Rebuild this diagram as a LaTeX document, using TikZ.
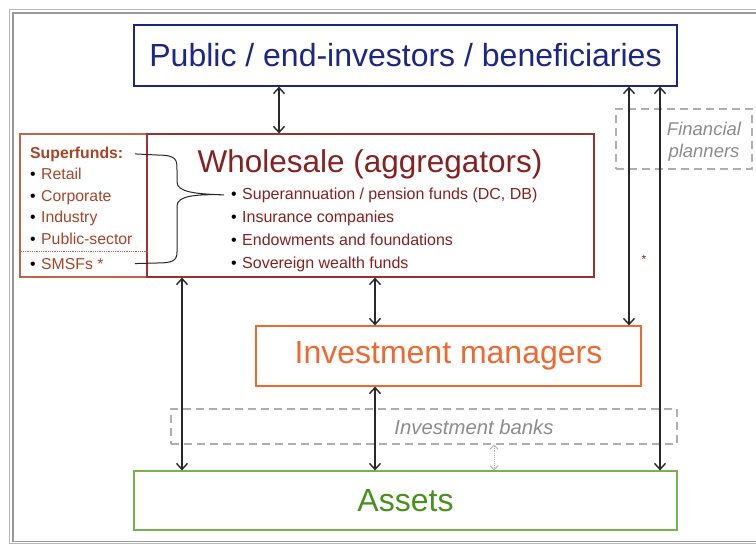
\documentclass[tikz,border=0pt]{standalone}
\usepackage{fontspec}
\setmainfont{Liberation Sans}
\usetikzlibrary{arrows.meta, calc}
\definecolor{publicBlue}{RGB}{28, 38, 135}
\definecolor{wholesaleRed}{RGB}{135, 32, 32}
\definecolor{wholesaleEdge}{RGB}{150, 50, 50}
\definecolor{superBrown}{RGB}{168, 68, 38}
\definecolor{superEdge}{RGB}{190, 100, 75}
\definecolor{managerOrange}{RGB}{240, 104, 48}
\definecolor{assetGreen}{RGB}{72, 145, 28}
\definecolor{assetEdge}{RGB}{118, 178, 78}
\definecolor{dashGray}{RGB}{175, 175, 175}
\definecolor{labelGray}{RGB}{140, 140, 140}
\definecolor{arrowGray}{RGB}{40, 40, 40}
\newcommand{\itm}{\makebox[11pt][l]{\color{black}\textbullet}}

\begin{document}
\begin{tikzpicture}[x=1pt, y=-1pt,
    bigbox/.style={draw, line width=1.2pt, inner sep=0pt, font=\fontsize{32}{36}\selectfont},
    dashbox/.style={draw=dashGray, line width=1.3pt, dash pattern=on 8pt off 5pt, inner sep=0pt},
    sftxt/.style={text=superBrown, anchor=base west, inner sep=0pt, font=\fontsize{15.8}{19}\selectfont},
    wstxt/.style={text=wholesaleRed, anchor=base west, inner sep=0pt, font=\fontsize{16}{19}\selectfont},
    biarrow/.style={{Straight Barb[length=6pt,width=11pt]}-{Straight Barb[length=6pt,width=11pt]}, line width=1.4pt, draw=arrowGray},
    brace/.style={draw=arrowGray, line width=1pt}]
    \useasboundingbox (0,0) rectangle (756,544);

    % window frame
    \draw[gray!55, line width=1.5pt] (9.5,9.5) rectangle (780,544);
    \draw[gray!80, line width=1.5pt] (13,13) rectangle (780,541.5);

    % main boxes
    \node[bigbox, draw=publicBlue, text=publicBlue, minimum width=543pt, minimum height=61pt] (public) at (405.5,55.5) {Public / end-investors / beneficiaries};
    \node[draw=superEdge, line width=1.2pt, minimum width=127pt, minimum height=143pt] (superbox) at (83.5,205.5) {};
    \node[draw=wholesaleEdge, line width=1.2pt, minimum width=447pt, minimum height=143pt] (whole) at (370.5,205.5) {};
    \node[text=wholesaleRed, anchor=base, inner sep=0pt, font=\fontsize{31.5}{36}\selectfont] (wtitle) at (370,172) {Wholesale (aggregators)};
    \node[bigbox, draw=managerOrange, text=managerOrange, minimum width=385pt, minimum height=60pt] (managers) at (448.5,356) {Investment managers};
    \node[bigbox, draw=assetEdge, text=assetGreen, minimum width=543pt, minimum height=59pt] (assets) at (405.5,500.5) {Assets};

    % intermediaries
    \node[dashbox, minimum width=506pt, minimum height=35pt] (banks) at (424,426.5) {};
    \node[text=labelGray, font=\itshape\fontsize{20.3}{22}\selectfont] (bankslabel) at (474,427) {Investment banks};
    \node[dashbox, minimum width=136pt, minimum height=60pt] (planners) at (684,139) {};
    \node[text=labelGray, align=center, inner sep=0pt, font=\itshape\fontsize{18.5}{22}\selectfont] (plannerslabel) at (704,142) {Financial\\planners};

    % superfunds list
    \node[sftxt, font=\bfseries\fontsize{15.8}{19}\selectfont] (sf) at (30,158) {Superfunds:};
    \foreach \t [count=\i] in {Retail, Corporate, Industry, Public-sector}
        \node[sftxt] (sf\i) at (30,{158+21.5*\i}) {\itm\t};
    \draw[superEdge, line width=0.8pt, densely dotted] (superbox.west |- 0,251) -- (superbox.east |- 0,251);
    \node[sftxt] (smsf) at (30,269) {\itm SMSFs *};

    % wholesale list
    \foreach \t [count=\i] in {{Superannuation / pension funds (DC, DB)}, Insurance companies, Endowments and foundations, Sovereign wealth funds}
        \node[wstxt] (wl\i) at (231,{199+23*(\i-1)}) {\itm\t};

    % brace from superfunds to the pension line
    \coordinate (brx) at (135,0);
    \coordinate (tip) at ($(wl1.west)+(-7,0)$);
    \draw[brace] (sf.east -| brx) -- (157,155) .. controls (177,155) and (177,160) .. (177,170)
        -- (177,182) .. controls (177,192) and (195,194) .. (tip)
        .. controls (195,194) and (177,196) .. (177,206) -- (177,252)
        .. controls (177,261) and (172,263) .. (157,263) -- (smsf.east -| brx);

    % flows
    \draw[biarrow] (public.south -| 279,0) -- (whole.north -| 279,0);
    \draw[biarrow] (whole.south -| 375,0) -- (managers.north -| 375,0);
    \draw[biarrow] (whole.south -| 182,0) -- (assets.north -| 182,0);
    \draw[biarrow] (managers.south -| 375,0) -- (assets.north -| 375,0);
    \draw[biarrow] (public.south -| 629,0) -- (managers.north -| 629,0);
    \draw[biarrow] (public.south -| 660,0) -- (assets.north -| 660,0);
    \draw[{Straight Barb[length=4pt,width=8pt]}-{Straight Barb[length=4pt,width=8pt]}, dashGray, line width=0.9pt, densely dotted] (banks.south -| 494,0) -- (assets.north -| 494,0);
    \node[text=wholesaleRed, font=\fontsize{12}{12}\selectfont] (star) at (644,259) {*};
\end{tikzpicture}
\end{document}
